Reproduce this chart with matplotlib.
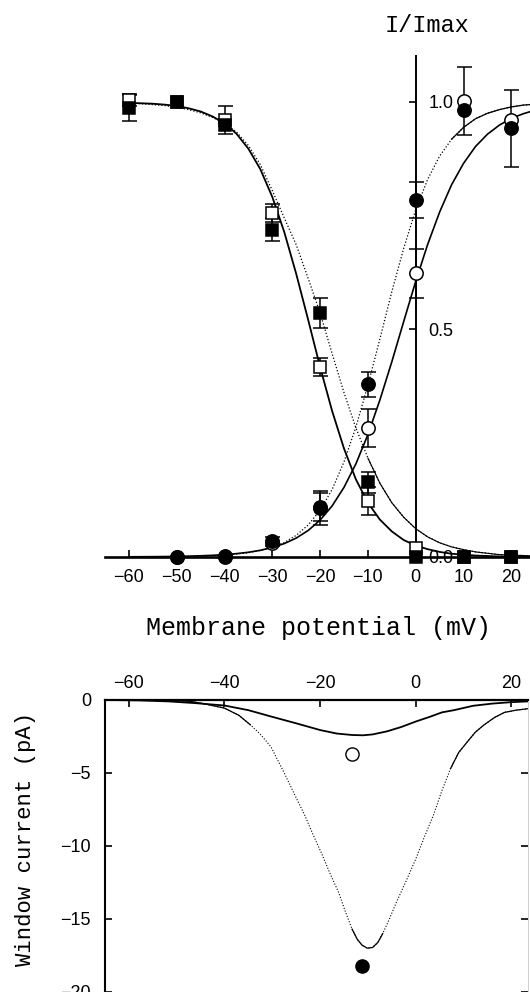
import numpy as np
import matplotlib
matplotlib.use("Agg")
import matplotlib.pyplot as plt

# ---- data ----
# steady-state inactivation (squares) and activation (circles), I/Imax
v_inact = [-60, -50, -40, -30, -20, -10, 0, 10, 20]
inact_filled = [0.987, 1.0, 0.949, 0.719, 0.537, 0.164, 0.0, 0.0, 0.0]
inact_filled_err = [0.03, 0.0, 0.0, 0.025, 0.033, 0.023, 0.0, 0.0, 0.0]
inact_open = [1.004, 1.0, 0.96, 0.755, 0.418, 0.123, 0.02, 0.0, 0.0]
inact_open_err = [0.012, 0.0, 0.03, 0.02, 0.02, 0.03, 0.0, 0.0, 0.0]

v_act = [-50, -40, -30, -20, -10, 0, 10, 20]
act_filled = [0.0, 0.003, 0.034, 0.108, 0.379, 0.785, 0.983, 0.942]
act_filled_err = [0.0, 0.0, 0.01, 0.037, 0.028, 0.04, 0.0, 0.085]
act_open = [0.0, 0.0, 0.03, 0.11, 0.284, 0.623, 1.002, 0.96]
act_open_err = [0.0, 0.0, 0.0, 0.03, 0.042, 0.053, 0.075, 0.0]

# fitted curves, read every 2.5 mV
v_fit = np.arange(-60, 25.1, 2.5)
h_solid = [.998, .997, .996, .994, .991, .986, .979, .968, .953, .930, .897, .852,
           .791, .714, .622, .521, .417, .321, .238, .170, .119, .082, .056, .037,
           .025, .017, .011, .007, .005, .003, .002, .001, .001, .001, .000]
h_dotted = [.997, .996, .994, .992, .988, .983, .976, .966, .953, .934, .904, .862,
            .805, .745, .686, .612, .536, .447, .361, .283, .217, .162, .119, .087,
            .062, .044, .031, .022, .016, .011, .008, .005, .004, .003, .002]
m_solid = [.0003, .0004, .0006, .0008, .0012, .0017, .0025, .0035, .005, .0072, .0102,
           .0146, .0207, .0293, .0414, .0581, .081, .112, .153, .205, .269, .345, .429,
           .518, .606, .687, .758, .818, .865, .902, .929, .949, .964, .974, .982]
m_dotted = [.0001, .0002, .0003, .0005, .0008, .0012, .0018, .0027, .0041, .0062, .0093,
            .0141, .0212, .0318, .0474, .0702, .1028, .148, .209, .286, .378, .479, .583,
            .679, .763, .830, .881, .918, .944, .963, .975, .983, .989, .993, .995]

# window current (pA)
v_win_big = [-65, -55, -50, -47, -44, -40, -37, -34.6, -32.5, -30.3, -27.5, -25.3, -23.2,
             -21.5, -19.7, -17.9, -16.1, -14.7, -13.3, -12.2, -11.2, -10.1, -9.0, -7.9,
             -6.9, -5.5, -4.1, -2.0, 0.0, 1.8, 3.7, 5.5, 7.3, 9.0, 10.8, 12.5, 14.3, 16.5,
             18.6, 21.0, 23.5]
i_win_big = [0.0, -0.02, -0.05, -0.1, -0.28, -0.56, -1.05, -1.7, -2.35, -3.2, -5.0, -6.5,
             -7.9, -9.2, -10.5, -11.9, -13.2, -14.5, -15.7, -16.4, -16.8, -17.0, -16.95,
             -16.6, -16.0, -15.0, -13.9, -12.4, -10.9, -9.4, -7.9, -6.2, -4.7, -3.6, -2.87,
             -2.2, -1.71, -1.2, -0.85, -0.7, -0.6]
v_win_small = [-65, -58, -51.6, -46, -40, -35, -30.3, -25, -20, -16.5, -13.3, -11, -9, -6,
               -3, 0, 3, 5.5, 8, 12, 16, 20, 23.5]
i_win_small = [0.0, -0.03, -0.1, -0.22, -0.38, -0.7, -1.13, -1.6, -2.06, -2.3, -2.4, -2.42,
               -2.36, -2.15, -1.85, -1.48, -1.15, -0.85, -0.7, -0.4, -0.25, -0.15, -0.1]
peak_filled = (-11.2, -18.2)
peak_open = (-13.3, -3.67)

mono = "Liberation Mono"
tickfont = ["Liberation Sans Narrow", "Liberation Sans", "DejaVu Sans"]
plt.rcParams["font.family"] = tickfont

fig = plt.figure(figsize=(5.3, 9.92), dpi=100)

# ---------- top panel ----------
ax = fig.add_axes([105 / 530, 0.434, 425 / 530, 0.5096])
ax.set_xlim(-65, 23.9)
ax.set_ylim(-0.01, 1.101)
for s in ["top", "left"]:
    ax.spines[s].set_visible(False)
ax.spines["bottom"].set_position(("data", 0))
ax.spines["bottom"].set_linewidth(1.9)
ax.spines["right"].set_position(("data", 0))
ax.spines["right"].set_linewidth(1.4)
ax.yaxis.tick_right()
ax.set_xticks(range(-60, 21, 10))
ax.set_xticklabels([str(v).replace("-", "\u2212") for v in range(-60, 21, 10)])
ax.set_yticks([0, 0.5, 1.0])
ax.set_yticklabels(["0.0", "0.5", "1.0"])
ax.tick_params(axis="x", direction="in", length=5, width=1.2, pad=9, labelsize=13)
ax.tick_params(axis="y", direction="in", length=5, width=1.2, pad=9, labelsize=13)

v_fit_arr = np.array(v_fit)
h_dot = np.array(h_dotted)
m_dot = np.array(m_dotted)
ax.plot(v_fit, h_solid, color="black", lw=1.3)
ax.plot(v_fit, m_solid, color="black", lw=1.2)
ax.plot(v_fit, h_dotted, color="black", lw=0.9, ls=(0, (1, 1.6)))
ax.plot(v_fit, m_dotted, color="black", lw=0.9, ls=(0, (1, 1.6)))
ax.plot(v_fit_arr, np.where(v_fit_arr >= -10, h_dot, np.nan), color="black", lw=0.8)
ax.plot(v_fit_arr, np.where(v_fit_arr >= 7.5, m_dot, np.nan), color="black", lw=0.9)


def points(ax, x, y, err, marker, filled, ms):
    x, y, err = np.array(x), np.array(y), np.array(err)
    k = err > 0
    ax.errorbar(x[k], y[k], yerr=err[k], fmt="none", ecolor="black", elinewidth=1.1,
                capsize=5.4, capthick=1.1, zorder=3, clip_on=False)
    ax.plot(x, y, ls="none", marker=marker, ms=ms, mec="black", mew=1.1,
            mfc="black" if filled else "white", zorder=4, clip_on=False)


points(ax, v_inact, inact_open, inact_open_err, "s", False, 8.3)
points(ax, v_inact, inact_filled, inact_filled_err, "s", True, 8.3)
points(ax, v_act, act_open, act_open_err, "o", False, 9.6)
points(ax, v_act, act_filled, act_filled_err, "o", True, 9.6)

fig.text(427 / 530, 1 - 25 / 992, "I/Imax", family=mono, fontsize=17, ha="center", va="center")
fig.text(318 / 530, 1 - 628 / 992, "Membrane potential (mV)", family=mono, fontsize=18,
         ha="center", va="center")

# ---------- bottom panel ----------
bx = fig.add_axes([105 / 530, 0.0, 423 / 530, 0.2944])
bx.set_xlim(-65, 23.5)
bx.set_ylim(-20, 0)
bx.spines["bottom"].set_visible(False)
bx.spines["top"].set_linewidth(1.6)
bx.spines["left"].set_linewidth(1.5)
bx.spines["right"].set_linewidth(0.5)
bx.spines["right"].set_color("0.75")
bx.xaxis.tick_top()
bx.set_xticks([-60, -40, -20, 0, 20])
bx.set_xticklabels(["\u221260", "\u221240", "\u221220", "0", "20"])
bx.set_yticks([0, -5, -10, -15, -20])
bx.set_yticklabels(["0", "\u22125", "\u221210", "\u221215", "\u221220"])
bx.tick_params(axis="x", direction="in", length=5, width=1.2, pad=6, labelsize=13)
bx.tick_params(axis="y", direction="in", length=5, width=1.2, pad=10, labelsize=13,
               right=True)

vb = np.array(v_win_big)
ib = np.array(i_win_big)
bx.plot(v_win_small, i_win_small, color="black", lw=1.3)
bx.plot(vb, ib, color="black", lw=0.8, ls=(0, (1, 1.6)))
solid_part = (vb <= -34.6) | ((vb >= -13.3) & (vb <= -6.9)) | (vb >= 7.3)
bx.plot(vb, np.where(solid_part, ib, np.nan), color="black", lw=0.9)
bx.plot(*peak_filled, marker="o", ms=9.5, color="black", ls="none")
bx.plot(*peak_open, marker="o", ms=9.5, mfc="white", mec="black", mew=1.0, ls="none")

fig.text(25 / 530, 1 - 839 / 992, "Window current (pA)", family=mono, fontsize=16,
         rotation=90, ha="center", va="center")

fig.savefig("out.png", dpi=100)
